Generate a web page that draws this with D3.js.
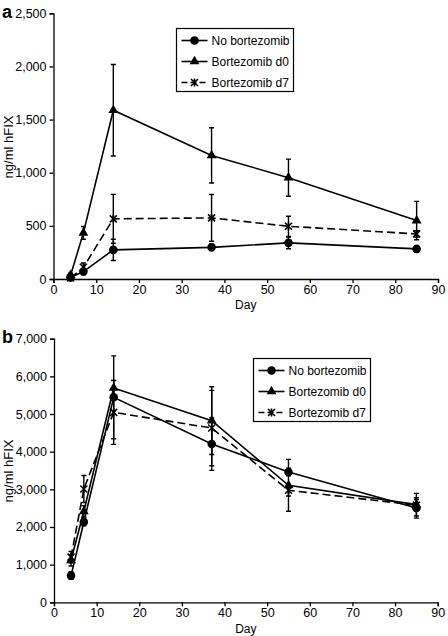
<!DOCTYPE html>
<html><head><meta charset="utf-8">
<script src="https://cdn.jsdelivr.net/npm/d3@7"></script>
<style>body{margin:0;background:#fff}svg{display:block}text{font-family:"Liberation Sans",Arial,sans-serif;fill:#000}</style>
</head><body>
<script>
const days = [4, 7, 14, 37, 55, 85];
const seriesNames = ["No bortezomib", "Bortezomib d0", "Bortezomib d7"];
const xTicks = [0, 10, 20, 30, 40, 50, 60, 70, 80, 90];
const yTicksA = [0, 500, 1000, 1500, 2000, 2500];
const yTicksB = [0, 1000, 2000, 3000, 4000, 5000, 6000, 7000];

const aNone = [15, 70, 274, 298, 340, 283];
const aNoneErr = [10, 30, 100, 30, 55, 30];
const aD0 = [35, 434, 1588, 1163, 953, 550];
const aD0Err = [20, 60, 430, 260, 175, 180];
const aD7 = [10, 110, 566, 575, 496, 424];
const aD7Err = [10, 40, 230, 220, 95, 30];

const bNone = [708, 2133, 5443, 4204, 3460, 2505];
const bNoneErr = [100, 100, 1100, 700, 100, 270];
const bD0 = [1115, 2416, 5690, 4823, 3106, 2593];
const bD0Err = [150, 150, 200, 900, 690, 300];
const bD7 = [1200, 3009, 5044, 4628, 2974, 2580];
const bD7Err = [150, 360, 850, 1000, 150, 150];

const svg = d3.select("body").append("svg").attr("width", 448).attr("height", 636);
const fmt = d3.format(",");

function drawMarker(g, kind, x, y) {
  if (kind === 0) {
    g.append("circle").attr("cx", x).attr("cy", y).attr("r", 4.3).attr("fill", "#000");
  } else if (kind === 1) {
    g.append("path").attr("d", d3.symbol(d3.symbolTriangle, 42)()).attr("transform", `translate(${x},${y})`).attr("fill", "#000");
  } else {
    const s = 3.5;
    g.append("path").attr("d", `M${x-s},${y-s}L${x+s},${y+s}M${x-s},${y+s}L${x+s},${y-s}M${x},${y-s-0.5}L${x},${y+s+0.5}`)
      .attr("stroke", "#000").attr("stroke-width", 1.6).attr("fill", "none");
  }
}

function panel(cfg) {
  const x = d3.scaleLinear().domain([0, 90]).range([cfg.x0, cfg.x1]);
  const y = d3.scaleLinear().domain([0, cfg.ymax]).range([cfg.y0, cfg.y1]);
  const g = svg.append("g");
  g.append("g").attr("transform", `translate(0,${cfg.y0})`)
    .call(d3.axisBottom(x).tickValues(xTicks).tickSize(4).tickPadding(2).tickFormat(d3.format("d")))
    .call(a => { a.selectAll("path,line").attr("stroke", "#000").attr("stroke-width", 1.3); a.selectAll("text").attr("font-size", 12.5).attr("font-family", "Liberation Sans, Arial"); });
  g.append("g").attr("transform", `translate(${cfg.x0},0)`)
    .call(d3.axisLeft(y).tickValues(cfg.yTicks).tickSize(4).tickPadding(3).tickFormat(fmt))
    .call(a => { a.selectAll("path,line").attr("stroke", "#000").attr("stroke-width", 1.3); a.selectAll("text").attr("font-size", 12.5).attr("font-family", "Liberation Sans, Arial"); });
  g.append("text").attr("x", (cfg.x0 + cfg.x1) / 2).attr("y", cfg.dayY).attr("text-anchor", "middle").attr("font-size", 12).text("Day");
  g.append("text").attr("transform", `translate(${cfg.ylabX},${cfg.ylabY}) rotate(-90)`).attr("text-anchor", "middle").attr("font-size", 13).text("ng/ml hFIX");
  g.append("text").attr("x", 2).attr("y", cfg.letterY).attr("font-size", 18).attr("font-weight", "bold").text(cfg.letter);

  cfg.series.forEach((s, k) => {
    const line = d3.line().x((d, i) => x(days[i])).y(d => y(d));
    g.append("path").datum(s.v).attr("d", line).attr("fill", "none").attr("stroke", "#000").attr("stroke-width", 1.6)
      .attr("stroke-dasharray", k === 2 ? "8,4" : null);
    s.v.forEach((v, i) => {
      const cx = x(days[i]);
      const yt = y(v + s.e[i]), yb = y(Math.max(0, v - s.e[i]));
      g.append("path").attr("d", `M${cx},${yt}L${cx},${yb}M${cx-2.5},${yt}L${cx+2.5},${yt}M${cx-2.5},${yb}L${cx+2.5},${yb}`)
        .attr("stroke", "#000").attr("stroke-width", 1.4).attr("fill", "none");
    });
    s.v.forEach((v, i) => drawMarker(g, k, x(days[i]), y(v)));
  });

  const lg = g.append("g");
  lg.append("rect").attr("x", cfg.lx).attr("y", cfg.ly).attr("width", 117).attr("height", 63)
    .attr("fill", "#fff").attr("stroke", "#000").attr("stroke-width", 1.2);
  seriesNames.forEach((n, k) => {
    const ry = cfg.ly + 12 + k * 21;
    lg.append("line").attr("x1", cfg.lx + 5).attr("x2", cfg.lx + 31).attr("y1", ry).attr("y2", ry)
      .attr("stroke", "#000").attr("stroke-width", 1.6).attr("stroke-dasharray", k === 2 ? "6,3" : null);
    drawMarker(lg, k, cfg.lx + 18, ry);
    lg.append("text").attr("x", cfg.lx + 35).attr("y", ry + 4.5).attr("font-size", 12).text(n);
  });
}

panel({
  letter: "a", letterY: 18, x0: 53.5, x1: 438, y0: 279, y1: 13.3, ymax: 2500, yTicks: yTicksA,
  dayY: 309, ylabX: 13, ylabY: 147, lx: 176.5, ly: 28.5,
  series: [{ v: aNone, e: aNoneErr }, { v: aD0, e: aD0Err }, { v: aD7, e: aD7Err }]
});
panel({
  letter: "b", letterY: 343, x0: 54, x1: 437.7, y0: 602.3, y1: 338.7, ymax: 7000, yTicks: yTicksB,
  dayY: 633, ylabX: 13, ylabY: 471, lx: 253.5, ly: 358.5,
  series: [{ v: bNone, e: bNoneErr }, { v: bD0, e: bD0Err }, { v: bD7, e: bD7Err }]
});
</script>
</body></html>
